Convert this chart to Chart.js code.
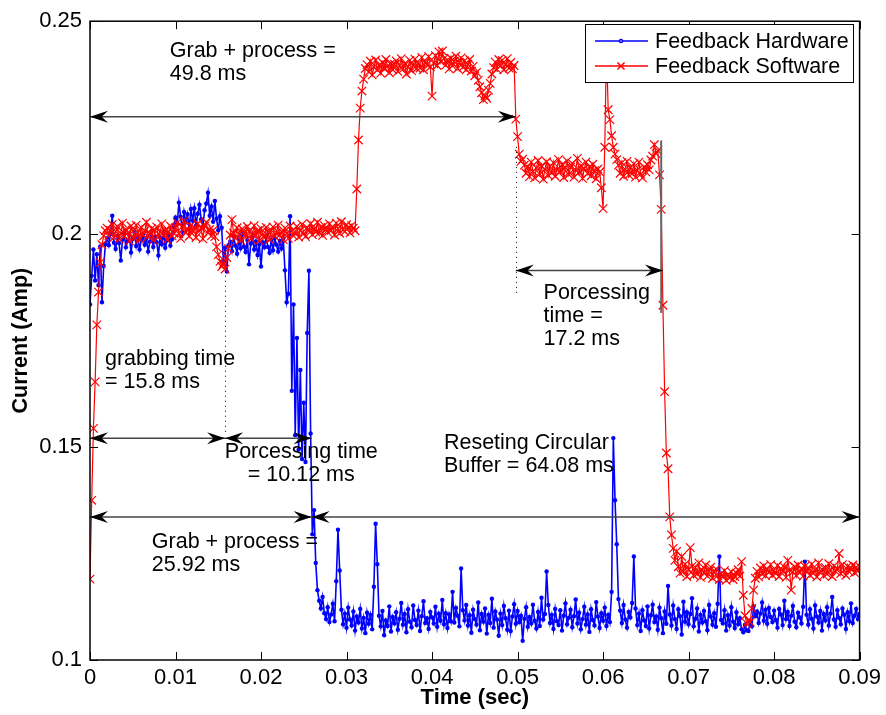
<!DOCTYPE html>
<html lang="en">
<head>
<meta charset="utf-8" />
<title>Feedback current vs time</title>
<style>
  * { margin: 0; padding: 0; }
  body { background: #fff; width: 886px; height: 715px; overflow: hidden; }
  canvas { display: block; }
</style>
</head>
<body>
<canvas id="currentChart" width="886" height="715"></canvas>
<script src="https://cdn.jsdelivr.net/npm/chart.js"></script>
<script>
// samples are taken every 0.2 ms, starting at t = 0
const sampleStep = 0.0002;

const timeTicks = [0, 0.01, 0.02, 0.03, 0.04, 0.05, 0.06, 0.07, 0.08, 0.09];
const currentTicks = [0.1, 0.15, 0.2, 0.25];

// hardware feedback current, mA
const hardwareMilliamps = [
  183.5, 190.2, 196.4, 189.1, 195.3, 188.0, 197.1, 184.0, 192.5, 197.6,
  199.1, 197.4, 200.2, 204.3, 198.0, 196.5, 199.6, 197.9, 193.8, 198.7,
  200.1, 196.9, 198.4, 199.8, 195.7, 198.9, 200.4, 197.2, 199.3, 196.4,
  198.6, 200.0, 197.5, 199.1, 195.9, 198.2, 200.6, 197.0, 199.4, 198.1,
  195.0, 199.2, 197.6, 200.3, 196.8, 198.5, 199.9, 197.3, 198.8,
  201.8, 203.9, 202.5, 207.4, 204.1, 200.6, 205.2, 202.8, 204.7, 201.3, 205.9,
  203.2, 206.1, 202.0, 204.8, 206.9, 203.5, 201.7, 205.6, 207.2, 209.7,
  204.3, 206.5, 202.9, 207.8, 203.6, 200.9, 204.2, 201.5,
  193.5, 196.8, 191.2, 197.4,
  198.2, 196.0, 199.5, 197.3, 195.4, 198.8, 196.7, 199.9,
  197.1, 195.8, 198.6, 192.9, 197.8, 199.2, 196.4, 198.3, 195.1, 197.6,
  192.4, 198.1, 196.9, 199.4, 197.0, 195.6, 198.7, 196.2, 199.1, 197.5,
  195.9, 198.4, 196.6, 199.0, 191.5, 184.0,
  186.0, 204.2, 163.2, 183.5, 152.8, 175.6, 149.4, 168.1, 147.2, 160.4, 146.5, 176.8, 191.4, 153.2,
  129.5, 135.2, 122.8, 116.4,
  113.9, 112.1, 114.8, 111.0, 109.6, 112.4,
  108.9, 110.7, 113.2, 109.1, 118.5, 130.6, 121.0, 111.8, 108.4, 110.9,
  107.6, 112.3, 109.5, 108.1, 111.4, 106.9, 110.2, 108.8, 112.0, 107.4,
  109.9, 106.3, 111.1, 108.5, 110.6, 107.2, 117.2, 132.0, 122.5, 110.4,
  107.9, 111.5, 105.8, 109.3, 108.0, 112.6, 106.7, 110.1, 108.6, 111.2,
  107.1, 109.7, 113.4, 108.3, 110.8, 106.5, 111.9, 109.0, 107.7, 112.8,
  109.4, 108.2, 111.6, 106.8, 110.3, 113.8, 108.7, 109.8, 107.3, 111.3,
  110.0, 108.6, 112.5, 107.8, 110.9, 109.2, 114.1, 108.4, 111.0, 107.5,
  110.7, 109.1, 116.0, 108.8, 112.2, 110.4, 107.9, 121.5, 111.7, 109.3,
  112.9, 108.1, 110.5, 106.4, 111.8, 109.6, 108.3, 113.5, 107.0, 110.8,
  109.0, 112.1, 106.2, 110.6, 108.7, 114.4, 107.6, 111.4, 109.5, 105.7,
  110.9, 108.2, 112.7, 109.8, 107.1, 111.6, 106.8, 110.2, 113.1, 108.5,
  111.5, 108.9, 110.4, 104.5, 109.7, 112.4, 107.8, 110.1, 108.6, 113.0,
  109.2, 107.4, 111.3, 108.0, 114.6, 109.5, 110.8, 120.8, 112.9, 108.7,
  110.6, 107.3, 112.0, 109.1, 108.2, 111.7, 106.9, 110.4, 113.3, 108.4,
  109.9, 111.8, 107.7, 110.3, 114.2, 108.6, 111.1, 107.2, 109.6, 112.5,
  108.3, 110.7, 106.6, 111.9, 109.4, 108.1, 113.6, 110.2, 107.5, 111.0,
  109.2, 112.3, 108.0, 110.6, 108.9,
  116.0, 152.1, 137.5, 127.2, 114.3,
  111.6, 108.7, 112.9, 109.5, 107.6, 111.3, 110.0, 113.4, 124.3, 112.1,
  108.2, 110.9, 106.8, 111.7, 109.3, 108.0, 112.6, 107.4, 110.5, 113.0,
  108.9, 110.2, 107.1, 112.3, 109.8, 106.3, 111.4, 108.5, 117.4, 110.7,
  108.1, 112.8, 109.6, 107.3, 111.9, 110.3, 106.0, 113.7, 109.0, 111.2,
  108.4, 110.8, 114.5, 107.9, 109.7, 112.1, 106.7, 110.6, 108.8, 111.5,
  109.1, 107.0, 112.9, 110.2, 108.3, 111.0, 107.8, 113.2, 124.3, 109.4,
  108.6, 111.7, 106.9, 110.5, 108.1, 112.4, 109.0, 107.5, 111.2, 108.4,
  109.8, 107.2, 106.5, 108.3, 107.0, 106.8, 109.1, 107.9, 112.6, 110.3,
  111.4, 108.7, 110.9, 113.5, 109.2, 111.8, 108.5, 112.2, 110.1, 108.9,
  111.6, 109.4, 107.6, 112.0, 110.7, 108.2, 113.9, 109.6, 111.3, 108.0,
  110.4, 112.7, 109.0, 107.7, 111.1, 110.0, 108.6, 112.5, 123.1, 110.6,
  108.3, 111.9, 109.7, 107.4, 112.8, 110.2, 108.8, 111.5, 106.9, 110.8,
  109.3, 112.4, 108.1, 110.9, 114.8, 109.5, 107.8, 111.7, 109.9, 108.4,
  112.1, 110.6, 107.3, 111.2, 109.1, 113.3, 108.7, 110.4, 112.0, 109.6,
  110.8
];

// software feedback current, mA
const softwareMilliamps = [
  119.0, 137.5, 154.4, 165.3, 178.7, 186.4, 193.3, 197.5, 199.6, 200.8,
  201.4, 199.7, 200.9, 202.3, 199.2, 200.6, 201.8, 198.9, 200.2, 202.6,
  199.5, 201.1, 200.3, 198.4, 201.9, 200.7, 199.1, 202.1, 200.4, 198.8,
  201.6, 199.9, 200.8, 202.8, 199.4, 200.1, 201.3, 198.6, 200.9, 201.7,
  199.3, 200.5, 202.4, 199.8, 201.0, 198.7, 200.6, 201.9, 199.6, 200.2,
  201.5, 202.7, 200.1, 199.0, 201.8, 203.1, 200.4, 201.2, 199.5, 202.0,
  200.8, 201.6, 199.2, 202.5, 200.7, 201.4, 198.9, 201.9, 202.8, 200.3,
  201.1, 199.6, 200.9, 199.4,
  197.0, 195.2, 193.6, 192.4, 193.1, 191.8, 194.5, 196.6, 199.8,
  203.4, 200.2, 199.1, 201.5, 200.0, 198.6, 201.2,
  200.4, 199.3, 201.8, 200.6, 198.9, 200.1, 202.0, 199.7, 200.8, 198.5,
  201.3, 200.0, 199.2, 201.6, 200.5, 198.8, 200.9, 201.7, 199.5, 200.3,
  202.1, 199.8, 200.6, 198.7, 201.4, 200.2, 199.0, 201.9, 200.7, 199.6,
  200.4, 201.8, 199.3, 200.9, 202.3, 200.1, 199.4, 201.5, 200.8, 202.5,
  199.9, 201.2, 200.5, 202.8, 200.3, 201.6, 199.7, 202.0, 201.1, 200.4,
  202.4, 200.9, 201.7, 199.8, 202.6, 201.3, 200.2, 202.9, 201.0, 200.6,
  202.2, 201.5, 200.3, 202.0, 201.4, 200.8,
  210.6, 222.1, 229.6, 233.6, 236.4, 238.9,
  239.8, 238.1, 240.6, 237.4, 239.2, 240.9, 238.5, 239.7,
  237.8, 240.3, 238.9, 241.0, 239.4, 237.9, 240.1, 238.6, 239.9, 240.7,
  238.2, 239.5, 241.2, 238.8, 240.0, 237.6, 239.3, 240.8, 238.4, 239.6,
  241.1, 238.9, 240.2, 239.0, 241.5, 238.6, 240.4, 239.8, 241.7, 239.3,
  232.4, 240.1, 241.9, 239.6, 242.8, 240.5, 243.0, 241.2, 239.7, 240.9,
  238.8, 241.3, 239.5, 240.6, 241.8, 238.9, 240.3, 241.4, 239.2, 240.7,
  238.6, 239.9, 241.0, 238.3, 239.4, 237.2, 238.0, 236.1, 234.6, 233.2,
  231.6, 232.5, 231.9, 233.8, 235.4, 237.6, 239.1, 240.4, 238.7, 241.0,
  239.5, 240.8, 238.6, 239.9, 241.2, 239.0, 240.3, 238.8, 239.6,
  227.0, 222.9, 218.8, 217.1,
  217.6, 216.2, 214.3, 215.8, 213.5, 216.9, 214.8,
  213.2, 215.5, 217.3, 214.1, 216.0, 212.9, 215.2, 217.0, 213.8, 215.9,
  214.4, 216.8, 213.6, 215.1, 217.5, 214.7, 216.3, 213.3, 215.6, 217.2,
  214.0, 215.7, 216.6, 213.4, 215.0, 217.8, 214.5, 216.1, 213.1, 215.4,
  216.9, 214.2, 215.8, 213.7, 216.4, 214.9,
  213.0, 215.3, 214.6, 210.9, 206.0, 220.4,
  244.0, 229.2, 226.9, 223.1, 220.4, 218.8, 217.5, 216.2,
  214.3, 216.8, 213.6, 215.2, 217.1, 213.9, 215.7, 214.2, 216.5, 213.4,
  215.0, 216.9, 214.1, 213.2, 215.8, 214.6, 216.3, 215.1, 217.4,
  218.3, 221.0, 218.9, 219.6, 213.9, 205.8,
  183.3, 163.0, 148.6, 144.9, 133.6, 129.4, 126.2, 123.4, 125.5,
  121.9, 120.4, 124.3, 120.8, 122.5, 119.6,
  121.3, 126.4, 122.0, 119.9, 121.7, 120.2, 122.8, 119.4, 121.1, 120.5,
  122.3, 119.7, 120.9, 121.8, 119.2, 120.6, 121.4, 119.8, 118.9, 120.3,
  119.5, 121.0, 118.7, 120.1, 119.3, 120.7, 118.9, 119.6, 120.4, 121.2,
  119.7, 123.1,
  115.2, 110.4, 108.6, 109.3, 108.9, 112.1, 116.4, 119.2,
  120.8, 119.5, 121.6, 120.2, 122.1, 119.8, 121.3, 120.6, 122.4, 119.9,
  121.0, 120.3, 122.2, 119.6, 121.5, 120.9, 121.8, 119.4, 123.4, 121.1,
  116.4, 120.7, 121.9, 119.8, 122.3, 120.5, 121.4, 119.7, 122.0, 120.9,
  121.6, 119.9, 122.5, 120.4, 121.2, 119.5, 122.8, 120.6, 121.3, 119.8,
  121.7, 120.2, 122.6, 121.0, 119.6, 122.1, 120.8, 121.5, 125.0, 120.3,
  122.4, 121.1, 119.9, 122.0, 120.7, 121.6, 122.3, 120.5, 121.8, 120.9,
  122.0
];

// dimension arrows: height (A), start and end time (s)
const arrows = [
  { v: 0.22755, from: 0, to: 0.0498 },
  { v: 0.19144, from: 0.0498, to: 0.067 },
  { v: 0.15208, from: 0, to: 0.0158 },
  { v: 0.15208, from: 0.0158, to: 0.02592 },
  { v: 0.13356, from: 0, to: 0.02592 },
  { v: 0.13356, from: 0.02592, to: 0.09 }
];

// dotted guides at the end of each phase
const guides = [
  { t: 0.0158, top: 0.1914, bottom: 0.1532 },
  { t: 0.0498, top: 0.2205, bottom: 0.1857 }
];
const stopMark = { t: 0.0668, top: 0.222, bottom: 0.1815 };

const notes = [
  { t: 0.00933, v: 0.2431, align: 'left', lines: ['Grab + process =', '49.8 ms'] },
  { t: 0.05304, v: 0.1861, align: 'left', lines: ['Porcessing', 'time =', '17.2 ms'] },
  { t: 0.00175, v: 0.1706, align: 'left', lines: ['grabbing time', '= 15.8 ms'] },
  { t: 0.02471, v: 0.1488, align: 'center', lines: ['Porcessing time', '= 10.12 ms'] },
  { t: 0.00723, v: 0.1278, align: 'left', lines: ['Grab + process =', '25.92 ms'] },
  { t: 0.04139, v: 0.1509, align: 'left', lines: ['Reseting Circular', 'Buffer = 64.08 ms'] }
];

const FAMILY = '"Liberation Sans", Arial, Helvetica, sans-serif';
Chart.defaults.font.family = FAMILY;
Chart.defaults.color = '#000';

const toPoints = mA => mA.map((v, i) => ({ x: i * sampleStep, y: v / 1000 }));

function drawHead(ctx, tipX, y, dir) {
  const len = 18, half = 6;
  ctx.beginPath();
  ctx.moveTo(tipX, y);
  ctx.lineTo(tipX - dir * len, y - half);
  ctx.lineTo(tipX - dir * len * 0.65, y);
  ctx.lineTo(tipX - dir * len, y + half);
  ctx.closePath();
  ctx.fill();
}

const overlay = {
  id: 'overlay',
  afterDatasetsDraw(chart) {
    const { ctx, chartArea: a } = chart;
    const xs = chart.scales.x, ys = chart.scales.y;
    ctx.save();

    // dotted phase guides
    ctx.strokeStyle = '#000';
    ctx.lineWidth = 1;
    ctx.setLineDash([1, 4]);
    guides.forEach(g => {
      const px = Math.round(xs.getPixelForValue(g.t)) + 0.5;
      ctx.beginPath();
      ctx.moveTo(px, ys.getPixelForValue(g.top));
      ctx.lineTo(px, ys.getPixelForValue(g.bottom));
      ctx.stroke();
    });
    ctx.setLineDash([]);

    // solid mark where software processing ends
    ctx.strokeStyle = '#666';
    ctx.lineWidth = 2;
    const sx = xs.getPixelForValue(stopMark.t);
    ctx.beginPath();
    ctx.moveTo(sx, ys.getPixelForValue(stopMark.top));
    ctx.lineTo(sx, ys.getPixelForValue(stopMark.bottom));
    ctx.stroke();

    // double arrows
    ctx.strokeStyle = '#444';
    ctx.fillStyle = '#000';
    ctx.lineWidth = 1.5;
    arrows.forEach(ar => {
      const x0 = xs.getPixelForValue(ar.from), x1 = xs.getPixelForValue(ar.to);
      const py = ys.getPixelForValue(ar.v);
      ctx.beginPath();
      ctx.moveTo(x0, py);
      ctx.lineTo(x1, py);
      ctx.stroke();
      drawHead(ctx, x0, py, -1);
      drawHead(ctx, x1, py, 1);
    });

    // text notes
    ctx.font = '21.5px ' + FAMILY;
    ctx.fillStyle = '#000';
    ctx.textBaseline = 'middle';
    notes.forEach(n => {
      ctx.textAlign = n.align;
      const px = xs.getPixelForValue(n.t), py = ys.getPixelForValue(n.v);
      n.lines.forEach((line, k) => ctx.fillText(line, px, py + k * 23));
    });

    // axes box with inward ticks on all sides
    ctx.strokeStyle = '#000';
    ctx.lineWidth = 1.5;
    ctx.strokeRect(a.left, a.top, a.right - a.left, a.bottom - a.top);
    ctx.lineWidth = 1;
    const tl = 8;
    ctx.beginPath();
    xs.ticks.forEach(t => {
      const px = Math.round(xs.getPixelForValue(t.value)) + 0.5;
      ctx.moveTo(px, a.bottom); ctx.lineTo(px, a.bottom - tl);
      ctx.moveTo(px, a.top); ctx.lineTo(px, a.top + tl);
    });
    ys.ticks.forEach(t => {
      const py = Math.round(ys.getPixelForValue(t.value)) + 0.5;
      ctx.moveTo(a.left, py); ctx.lineTo(a.left + tl, py);
      ctx.moveTo(a.right, py); ctx.lineTo(a.right - tl, py);
    });
    ctx.stroke();

    // legend box
    const lx = 585, ly = 24, lw = 268, lh = 58;
    ctx.fillStyle = '#fff';
    ctx.fillRect(lx, ly, lw, lh);
    ctx.strokeStyle = '#000';
    ctx.lineWidth = 1;
    ctx.strokeRect(lx + 0.5, ly + 0.5, lw, lh);
    chart.data.datasets.forEach((ds, k) => {
      const y = ly + 17 + k * 25;
      ctx.strokeStyle = ds.borderColor;
      ctx.lineWidth = 1.5;
      ctx.beginPath();
      ctx.moveTo(lx + 10, y);
      ctx.lineTo(lx + 63, y);
      ctx.stroke();
      Chart.helpers.drawPoint(ctx, {
        pointStyle: ds.pointStyle, radius: ds.pointStyle === 'circle' ? 1.5 : 5, borderWidth: 1
      }, lx + 36, y);
      ctx.fillStyle = '#000';
      ctx.textAlign = 'left';
      ctx.fillText(ds.label, lx + 70, y + 1);
    });

    ctx.restore();
  }
};

new Chart(document.getElementById('currentChart'), {
  type: 'line',
  data: {
    datasets: [
      {
        label: 'Feedback Hardware',
        data: toPoints(hardwareMilliamps),
        borderColor: '#0000ff',
        backgroundColor: '#0000ff',
        borderWidth: 1.6,
        pointStyle: 'circle',
        pointRadius: 2.2,
        pointBorderWidth: 0,
        order: 1
      },
      {
        label: 'Feedback Software',
        data: toPoints(softwareMilliamps),
        borderColor: '#ff0000',
        backgroundColor: '#ff0000',
        borderWidth: 1.2,
        pointStyle: 'crossRot',
        pointRadius: 6,
        pointBorderWidth: 1.2,
        order: 0
      }
    ]
  },
  options: {
    responsive: false,
    animation: false,
    layout: { padding: { top: 12, right: 24, left: 0, bottom: 0 } },
    plugins: { legend: { display: false }, tooltip: { enabled: false } },
    scales: {
      x: {
        type: 'linear',
        min: 0,
        max: 0.09,
        afterBuildTicks: s => { s.ticks = timeTicks.map(v => ({ value: v })); },
        afterFit: s => { s.height = 55; },
        ticks: { font: { size: 22 }, padding: 5, maxRotation: 0, callback: v => String(v) },
        grid: { display: false, drawTicks: false },
        border: { display: false },
        title: { display: true, text: 'Time (sec)', font: { size: 22, weight: 'bold' }, padding: { top: 0, bottom: 4 } }
      },
      y: {
        min: 0.1,
        max: 0.25,
        afterBuildTicks: s => { s.ticks = currentTicks.map(v => ({ value: v })); },
        afterFit: s => { s.width = 90; },
        ticks: { font: { size: 22 }, padding: 8, callback: v => String(v) },
        grid: { display: false, drawTicks: false },
        border: { display: false },
        title: { display: true, text: 'Current (Amp)', font: { size: 21.5, weight: 'bold' }, padding: { top: 8, bottom: 0 } }
      }
    }
  },
  plugins: [overlay]
});
</script>
</body>
</html>
